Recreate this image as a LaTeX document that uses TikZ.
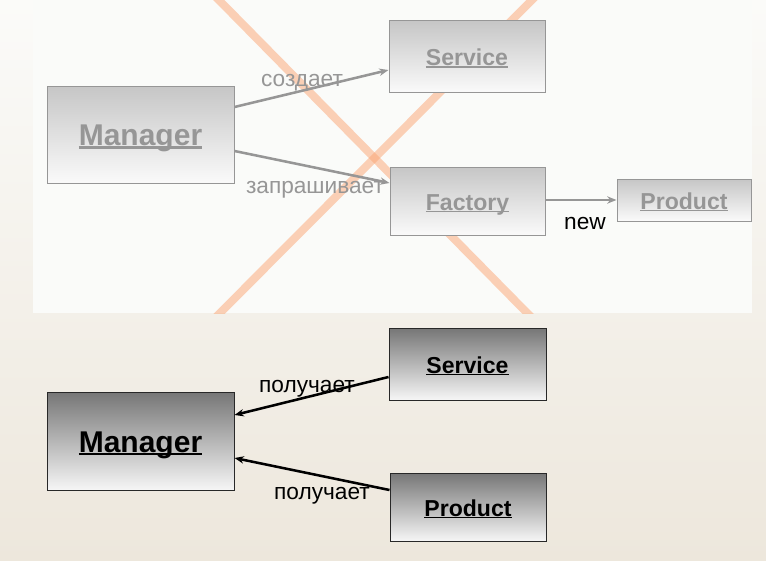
\documentclass[tikz,border=0pt]{standalone}
\usepackage{fontspec}
\setmainfont{Liberation Sans}
\usepackage{tikz}
\usetikzlibrary{arrows.meta, calc}
\definecolor{oldgray}{RGB}{150,150,150}
\definecolor{oldtop}{RGB}{198,198,198}
\definecolor{oldbot}{RGB}{250,250,250}
\definecolor{newtop}{RGB}{118,118,118}
\definecolor{newbot}{RGB}{246,246,246}
\definecolor{newline}{RGB}{40,40,40}
\definecolor{crossorange}{RGB}{250,165,115}
\definecolor{bgtop}{RGB}{251,251,249}
\definecolor{bgbot}{RGB}{237,231,220}
\definecolor{panelwhite}{RGB}{250,251,249}
\newsavebox{\undlbox}
\newcommand{\undl}[1]{\sbox{\undlbox}{#1}\rlap{\rule[-0.1em]{\wd\undlbox}{0.07em}}\usebox{\undlbox}}
\tikzset{
  oldbox/.style={rectangle, draw=oldgray, top color=oldtop, bottom color=oldbot,
    text=oldgray, font=\fontsize{17.3}{20}\selectfont\bfseries,
    text height=15pt, text depth=1.5pt,
    line width=0.75pt, minimum width=117pt, minimum height=53pt},
  newbox/.style={rectangle, draw=newline, top color=newtop, bottom color=newbot,
    text=black, font=\fontsize{17.3}{20}\selectfont\bfseries,
    text height=15pt, text depth=1.5pt,
    line width=0.75pt, minimum width=117pt, minimum height=53pt},
  bigbox/.style={minimum width=140.25pt, minimum height=73pt,
    text height=19pt, text depth=2.5pt,
    font=\fontsize{22.5}{27}\selectfont\bfseries},
  oldarrow/.style={-{Stealth[length=7pt, width=5.5pt]}, line width=1.9pt, color=oldgray},
  newarrow/.style={-{Stealth[length=7pt, width=5.5pt]}, line width=1.9pt, color=black},
  crossline/.style={line width=6pt, color=crossorange, opacity=0.5},
  lbl/.style={font=\fontsize{17}{20}\selectfont, inner sep=0pt}
}

\begin{document}
\begin{tikzpicture}[x=0.75pt, y=-0.75pt]
  \useasboundingbox (0,0) rectangle (766,560);

  % Background
  \fill[top color=bgtop, bottom color=bgbot] (0,0) rectangle (766,560);
  \fill[panelwhite] (33,0) rectangle (752,313);
  \begin{scope}
    \clip (33,0) rectangle (752,313);
    \draw[crossline] (209,-10) -- (537,323);
    \draw[crossline] (542,-10) -- (210,323);
  \end{scope}

  % Upper Nodes
  \node[oldbox, bigbox, minimum height=72.75pt] (mgrold) at (140.5,134.5) {\undl{Manager}};
  \node[oldbox, minimum height=53.25pt] (srvold) at (467,56.5) {\undl{Service}};
  \node[oldbox, minimum width=116.25pt, minimum height=51pt] (facold) at (467.5,201) {\undl{Factory}};
  \node[oldbox, minimum width=100.5pt, minimum height=31.5pt] (prdold) at (684,200) {\undl{Product}};

  % Lower Nodes
  \node[newbox, bigbox, minimum height=73.5pt] (mgrnew) at (140.5,441) {\undl{Manager}};
  \node[newbox, minimum width=117.75pt, minimum height=54pt] (srvnew) at (467.5,364) {\undl{Service}};
  \node[newbox, minimum height=51pt] (prdnew) at (468,507) {\undl{Product}};

  % Connections
  \draw[oldarrow] ($(mgrold.east)+(0,-27.5)$) -- ($(srvold.west)+(0,13.5)$);
  \draw[oldarrow] ($(mgrold.east)+(0,16.5)$) -- ($(facold.west)+(0,-18)$);
  \draw[oldarrow] (facold.east |- prdold.west) -- (prdold.west);
  \draw[newarrow] ($(srvnew.west)+(0,13)$) -- ($(mgrnew.east)+(0,-26)$);
  \draw[newarrow] ($(prdnew.west)+(0,-17)$) -- ($(mgrnew.east)+(0,17)$);

  % Labels
  \node[lbl, text=oldgray] (lblcreate) at (302,83) {создает};
  \node[lbl, text=oldgray] (lblask) at (315,190) {запрашивает};
  \node[lbl] (lblnew) at (585,224) {new};
  \node[lbl] (lblget1) at (307,389) {получает};
  \node[lbl] (lblget2) at (322,496) {получает};

\end{tikzpicture}
\end{document}
